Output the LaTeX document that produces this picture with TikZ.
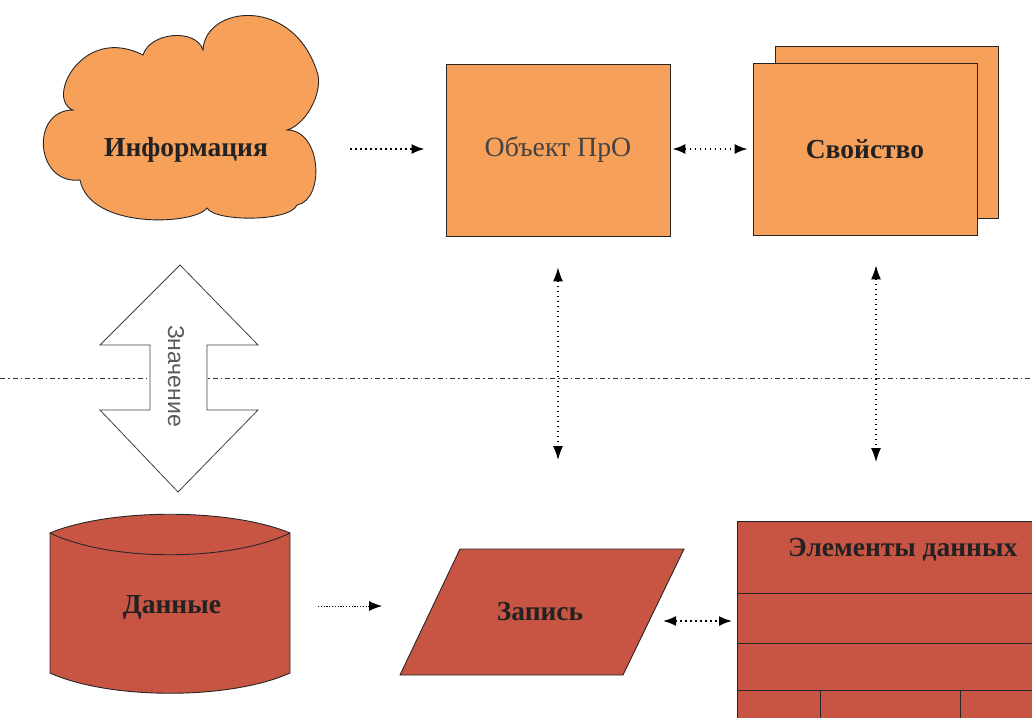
\documentclass[tikz,border=0pt]{standalone}
\usepackage{fontspec}
\setmainfont{Liberation Serif}
\newfontfamily\lblsans{Liberation Sans}
\usetikzlibrary{arrows.meta}
\definecolor{peach}{HTML}{F7A05A}
\definecolor{brick}{HTML}{C85544}
\definecolor{ink}{HTML}{222222}
\tikzset{
  shapeline/.style={draw=black!85, line width=0.9pt},
  lbl/.style={text=ink, font=\fontsize{27.5}{30}\selectfont\bfseries, inner sep=0pt},
  lblplain/.style={text=ink!85, font=\fontsize{27.8}{30}\selectfont, inner sep=0pt},
  dotarr/.style={line width=1.8pt, dash pattern=on 1.8pt off 3.2pt, -{Latex[length=13pt,width=10pt]}},
  dotdbl/.style={line width=1.8pt, dash pattern=on 1.8pt off 3.2pt, {Latex[length=13pt,width=10pt]}-{Latex[length=13pt,width=10pt]}},
  thinarr/.style={line width=0.9pt, dash pattern=on 1.2pt off 1.6pt, -{Latex[length=13pt,width=10pt]}},
  vdbl/.style={line width=1.2pt, dash pattern=on 1.6pt off 3.4pt, {Latex[length=14pt,width=10pt]}-{Latex[length=14pt,width=10pt]}},
  divider/.style={line width=0.9pt, black!80, dash pattern=on 5pt off 3pt on 1.5pt off 3pt},
}
\begin{document}
\begin{tikzpicture}[x=1pt,y=-1pt]
\useasboundingbox (0,0) rectangle (1032,717);
\clip (0,0) rectangle (1032,717);

% dash-dot divider between the two levels
\draw[divider] (0,378) -- (1032,378);

% cloud "Информация"
\filldraw[shapeline, fill=peach]
  (73,110) .. controls (45,100) and (82,24) .. (143,55)
  .. controls (150,32) and (196,28) .. (203,50)
  .. controls (205,5) and (295,-5) .. (318,75)
  .. controls (322,95) and (305,125) .. (287,130)
  .. controls (322,130) and (325,200) .. (297,205)
  .. controls (290,222) and (215,222) .. (207,208)
  .. controls (195,225) and (90,230) .. (80,180)
  .. controls (35,185) and (30,110) .. (73,110) -- cycle;
\node[lbl] (info) at (186,150) {Информация};

% object of the subject area
\node[shapeline, fill=peach, minimum width=224pt, minimum height=172pt, inner sep=0pt]
  (obj) at (558,150) {};
\node[lblplain] (objtxt) at (obj.center) {Объект ПрО};

% property: stacked sheets
\node[shapeline, fill=peach, minimum width=223pt, minimum height=172pt, inner sep=0pt]
  (propback) at (887,132) {};
\node[shapeline, fill=peach, minimum width=224pt, minimum height=172pt, inner sep=0pt]
  (prop) at (865,149) {};
\node[lbl] (proptxt) at (prop.center) {Свойство};

% data: cylinder
\filldraw[shapeline, fill=brick]
  (50,533) .. controls (110,508) and (230,508) .. (290,533)
  -- (290,673) .. controls (230,700) and (110,700) .. (50,673) -- cycle;
\draw[shapeline] (50,533) .. controls (110,562) and (230,562) .. (290,533);
\node[lbl] (data) at (172,607) {Данные};

% record: parallelogram
\filldraw[shapeline, fill=brick] (460,549) -- (684,549) -- (623,675) -- (400,675) -- cycle;
\node[lbl] (rec) at (540,612) {Запись};
\coordinate (rece) at (663,621);

% data elements table
\filldraw[shapeline, fill=brick] (737,521) rectangle (1045,730);
\draw[shapeline] (737,593) -- (1045,593);
\draw[shapeline] (737,643) -- (1045,643);
\draw[shapeline] (737,690) -- (1045,690);
\draw[shapeline] (820,690) -- (820,730);
\draw[shapeline] (960,690) -- (960,730);
\node[lbl, anchor=west] (elem) at (788,550) {Элементы данных};
\coordinate (elemw) at (737,621);

% "value" double block arrow
\filldraw[draw=black!75, line width=0.8pt, fill=white]
  (180,265) -- (258,345) -- (207,345) -- (207,410) -- (258,410)
  -- (178,492) -- (100,410) -- (150,410) -- (150,345) -- (100,345) -- cycle;
\node[text=black!65, font=\lblsans\fontsize{23}{25}\selectfont, rotate=-90, inner sep=0pt]
  (val) at (176,376) {Значение};

% connectors
\coordinate (infoe) at (350,149);
\draw[dotarr, shorten >=21pt] (infoe) -- (obj.west |- infoe);
\draw[dotdbl, shorten <=2pt, shorten >=5pt] (obj.east |- infoe) -- (prop.west |- infoe);

\coordinate (vobj) at (558,460);
\coordinate (vprop) at (876,462);
\draw[vdbl, shorten <=31pt] (obj.south) -- (vobj);
\draw[vdbl, shorten <=30pt] (prop.south -| vprop) -- (vprop);

\coordinate (datae) at (318,606);
\draw[thinarr, shorten >=18pt] (datae) -- (400,606);
\draw[dotdbl, shorten >=5pt] (rece) -- (elemw);
\end{tikzpicture}
\end{document}
